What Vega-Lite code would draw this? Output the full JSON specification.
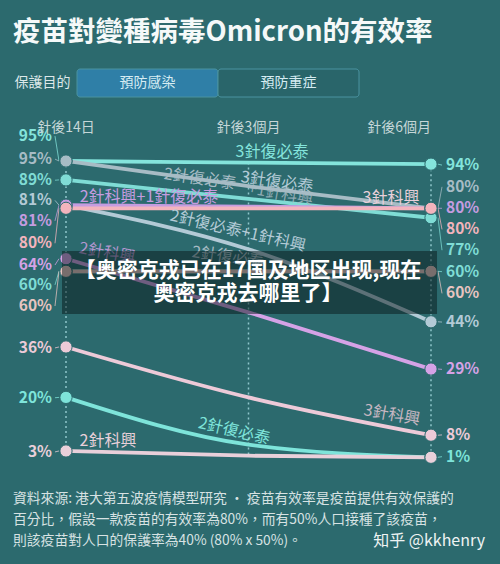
{
  "$schema": "https://vega.github.io/schema/vega-lite/v6.json",
  "padding": {"left": 13, "right": 13, "top": 19, "bottom": 14},
  "spacing": 15,
  "resolve": {"scale": {"color": "independent", "x": "independent", "y": "independent"}},
  "title": {"text": "疫苗對變種病毒Omicron的有效率", "anchor": "start", "fontSize": 27.5, "fontWeight": "bold", "color": "#f5f9f9", "font": "Noto Sans CJK TC", "offset": 22},
  "config": {
    "background": "#2c6a6e",
    "view": {"stroke": null},
    "font": "Noto Sans CJK TC",
    "text": {"font": "Noto Sans CJK TC"}
  },
  "datasets": {
    "series": [
      {"s": "s01", "t": 0, "v": 0.95, "lp": 1.029},
      {"s": "s01", "t": 1, "v": 0.945},
      {"s": "s01", "t": 2, "v": 0.94, "lp": 0.937},
      {"s": "s02", "t": 0, "v": 0.95, "lp": 0.956},
      {"s": "s02", "t": 1, "v": 0.87},
      {"s": "s02", "t": 2, "v": 0.80, "lp": 0.868},
      {"s": "s03", "t": 0, "v": 0.89, "lp": 0.889},
      {"s": "s03", "t": 1, "v": 0.83},
      {"s": "s03", "t": 2, "v": 0.77, "lp": 0.667},
      {"s": "s04", "t": 0, "v": 0.81, "lp": 0.825},
      {"s": "s04", "t": 1, "v": 0.67},
      {"s": "s04", "t": 2, "v": 0.44, "lp": 0.439},
      {"s": "s05", "t": 0, "v": 0.81, "lp": 0.760},
      {"s": "s05", "t": 1, "v": 0.805},
      {"s": "s05", "t": 2, "v": 0.80, "lp": 0.800},
      {"s": "s06", "t": 0, "v": 0.80, "lp": 0.689},
      {"s": "s06", "t": 1, "v": 0.80},
      {"s": "s06", "t": 2, "v": 0.80, "lp": 0.733},
      {"s": "s07", "t": 0, "v": 0.64, "lp": 0.620},
      {"s": "s07", "t": 1, "v": 0.47},
      {"s": "s07", "t": 2, "v": 0.29, "lp": 0.289},
      {"s": "s08", "t": 0, "v": 0.60, "lp": 0.557},
      {"s": "s08", "t": 1, "v": 0.60},
      {"s": "s08", "t": 2, "v": 0.60, "lp": 0.599},
      {"s": "s09", "t": 0, "v": 0.60, "lp": 0.490},
      {"s": "s09", "t": 1, "v": 0.60},
      {"s": "s09", "t": 2, "v": 0.60, "lp": 0.530},
      {"s": "s10", "t": 0, "v": 0.36, "lp": 0.357},
      {"s": "s10", "t": 1, "v": 0.20},
      {"s": "s10", "t": 2, "v": 0.08, "lp": 0.081},
      {"s": "s11", "t": 0, "v": 0.20, "lp": 0.199},
      {"s": "s11", "t": 1, "v": 0.05},
      {"s": "s11", "t": 2, "v": 0.01, "lp": 0.012},
      {"s": "s12", "t": 0, "v": 0.03, "lp": 0.027},
      {"s": "s12", "t": 1, "v": 0.015},
      {"s": "s12", "t": 2, "v": 0.01}
    ],
    "notes": [
      {"id": 1, "text": "3針復必泰", "s": "s01", "t": 1.129, "v": 0.9786},
      {"id": 2, "text": "2針復必泰", "s": "s02", "t": 0.734, "v": 0.8929},
      {"id": 3, "text": "3針復必泰", "s": "s04", "t": 1.156, "v": 0.8834},
      {"id": 4, "text": "+1針科興", "s": "s02", "t": 1.175, "v": 0.8450},
      {"id": 5, "text": "2針科興+1針復必泰", "s": "s05", "t": 0.455, "v": 0.8358},
      {"id": 6, "text": "3針科興", "s": "s12", "t": 1.781, "v": 0.8326},
      {"id": 7, "text": "2針復必泰+1針科興", "s": "s04", "t": 0.942, "v": 0.7279},
      {"id": 8, "text": "2針科興", "s": "s07", "t": 0.225, "v": 0.6581},
      {"id": 9, "text": "2針復必泰", "s": "s02", "t": 0.888, "v": 0.6454},
      {"id": 10, "text": "3針科興", "s": "s10", "t": 1.786, "v": 0.1442},
      {"id": 11, "text": "2針復必泰", "s": "s11", "t": 0.921, "v": 0.0934},
      {"id": 12, "text": "2針科興", "s": "s12", "t": 0.230, "v": 0.0617}
    ],
    "cols": [
      {"t": 0, "name": "針後14日"},
      {"t": 1, "name": "針後3個月"},
      {"t": 2, "name": "針後6個月"}
    ]
  },
  "vconcat": [
    {
      "width": 346,
      "height": 28,
      "data": {"values": [
        {"purpose": "保護目的", "tab": "預防感染", "active": "yes"},
        {"purpose": "保護目的", "tab": "預防重症", "active": "no"}
      ]},
      "encoding": {
        "x": {"field": "tab", "type": "nominal", "sort": null, "scale": {"paddingInner": 0, "paddingOuter": 0.227, "align": 1}, "axis": null},
        "y": {"field": "purpose", "type": "nominal", "scale": {"paddingInner": 0, "paddingOuter": 0}, "axis": {"title": null, "domain": false, "ticks": false, "offset": -66, "labelPadding": 9, "labelFontSize": 14, "labelColor": "#dde8e9", "labelFont": "Noto Sans CJK TC"}}
      },
      "layer": [
        {"mark": {"type": "bar", "stroke": "#4a93a0", "strokeWidth": 1, "cornerRadius": 3},
         "encoding": {"color": {"field": "active", "type": "nominal", "scale": {"domain": ["yes", "no"], "range": ["#2f7fa7", "#29656a"]}, "legend": null}}},
        {"mark": {"type": "text", "fontSize": 14, "color": "#d6ecf2", "font": "Noto Sans CJK TC"},
         "encoding": {"text": {"field": "tab"}}}
      ]
    },
    {
      "width": 474,
      "height": 361,
      "layer": [
        {
          "data": {"name": "series"},
          "mark": {"type": "rule", "strokeDash": [2, 3], "strokeWidth": 1.5, "color": "#8fc6cb"},
          "encoding": {
            "x": {"field": "t", "type": "quantitative", "scale": {"domain": [-0.29041, 2.30685], "nice": false, "zero": false}, "axis": null},
            "y": {"aggregate": "max", "field": "v", "type": "quantitative", "scale": {"domain": [-0.043, 1.1023], "nice": false, "zero": false}, "axis": null},
            "y2": {"aggregate": "min", "field": "v"}
          }
        },
        {
          "data": {"name": "series"},
          "mark": {"type": "line", "strokeWidth": 3.8, "interpolate": "monotone", "strokeCap": "round"},
          "encoding": {
            "x": {"field": "t", "type": "quantitative", "scale": {"domain": [-0.29041, 2.30685], "nice": false, "zero": false}, "axis": null},
            "y": {"field": "v", "type": "quantitative", "scale": {"domain": [-0.043, 1.1023], "nice": false, "zero": false}, "axis": null},
            "color": {"field": "s", "type": "nominal", "scale": {"domain": ["s01","s02","s03","s04","s05","s06","s07","s08","s09","s10","s11","s12"], "range": ["#84e4dc","#a7bcc5","#7fdcd5","#b3cad6","#c59ce0","#f3b4bd","#d5a2e6","#7fdcd5","#e8c4c0","#edcad8","#7ee4da","#e9d0da"]}, "legend": null},
            "order": {"field": "t"}
          }
        },
        {
          "data": {"name": "series"},
          "transform": [{"filter": "datum.lp != null && datum.t == 0"}],
          "mark": {"type": "rule", "strokeWidth": 1, "opacity": 0.75},
          "encoding": {
            "x": {"datum": -0.0603, "type": "quantitative", "scale": {"domain": [-0.29041, 2.30685], "nice": false, "zero": false}, "axis": null},
            "x2": {"datum": -0.0384},
            "y": {"field": "lp", "type": "quantitative", "scale": {"domain": [-0.043, 1.1023], "nice": false, "zero": false}, "axis": null},
            "y2": {"field": "v"},
            "color": {"field": "s", "type": "nominal", "legend": null}
          }
        },
        {
          "data": {"name": "series"},
          "transform": [{"filter": "datum.lp != null && datum.t == 2"}],
          "mark": {"type": "rule", "strokeWidth": 1, "opacity": 0.75},
          "encoding": {
            "x": {"datum": 2.0603, "type": "quantitative", "scale": {"domain": [-0.29041, 2.30685], "nice": false, "zero": false}, "axis": null},
            "x2": {"datum": 2.0384},
            "y": {"field": "lp", "type": "quantitative", "scale": {"domain": [-0.043, 1.1023], "nice": false, "zero": false}, "axis": null},
            "y2": {"field": "v"},
            "color": {"field": "s", "type": "nominal", "legend": null}
          }
        },
        {
          "data": {"name": "series"},
          "transform": [{"filter": "datum.t != 1"}],
          "mark": {"type": "point", "filled": true, "size": 150, "opacity": 1, "stroke": "#2c6a6e", "strokeWidth": 1},
          "encoding": {
            "x": {"field": "t", "type": "quantitative", "scale": {"domain": [-0.29041, 2.30685], "nice": false, "zero": false}, "axis": null},
            "y": {"field": "v", "type": "quantitative", "scale": {"domain": [-0.043, 1.1023], "nice": false, "zero": false}, "axis": null},
            "color": {"field": "s", "type": "nominal", "legend": null}
          }
        },
        {
          "data": {"name": "series"},
          "transform": [{"filter": "datum.lp != null && datum.t == 0"}],
          "mark": {"type": "text", "align": "right", "baseline": "middle", "dx": -14, "fontSize": 15.5, "fontWeight": "bold", "font": "Noto Sans CJK TC"},
          "encoding": {
            "x": {"field": "t", "type": "quantitative", "scale": {"domain": [-0.29041, 2.30685], "nice": false, "zero": false}, "axis": null},
            "y": {"field": "lp", "type": "quantitative", "scale": {"domain": [-0.043, 1.1023], "nice": false, "zero": false}, "axis": null},
            "text": {"field": "v", "type": "quantitative", "format": ".0%"},
            "color": {"field": "s", "type": "nominal", "legend": null}
          }
        },
        {
          "data": {"name": "series"},
          "transform": [{"filter": "datum.lp != null && datum.t == 2"}],
          "mark": {"type": "text", "align": "left", "baseline": "middle", "dx": 15, "fontSize": 15.5, "fontWeight": "bold", "font": "Noto Sans CJK TC"},
          "encoding": {
            "x": {"field": "t", "type": "quantitative", "scale": {"domain": [-0.29041, 2.30685], "nice": false, "zero": false}, "axis": null},
            "y": {"field": "lp", "type": "quantitative", "scale": {"domain": [-0.043, 1.1023], "nice": false, "zero": false}, "axis": null},
            "text": {"field": "v", "type": "quantitative", "format": ".0%"},
            "color": {"field": "s", "type": "nominal", "legend": null}
          }
        },
        {
          "data": {"name": "cols"},
          "transform": [{"filter": "datum.t < 2"}],
          "mark": {"type": "text", "align": "center", "baseline": "middle", "fontSize": 14, "color": "#c6d7d8", "font": "Noto Sans CJK TC"},
          "encoding": {
            "x": {"field": "t", "type": "quantitative", "scale": {"domain": [-0.29041, 2.30685], "nice": false, "zero": false}, "axis": null},
            "y": {"datum": 1.0547, "type": "quantitative", "scale": {"domain": [-0.043, 1.1023], "nice": false, "zero": false}, "axis": null},
            "text": {"field": "name"}
          }
        },
        {
          "data": {"name": "cols"},
          "transform": [{"filter": "datum.t == 2"}],
          "mark": {"type": "text", "align": "right", "baseline": "middle", "fontSize": 14, "color": "#c6d7d8", "font": "Noto Sans CJK TC"},
          "encoding": {
            "x": {"field": "t", "type": "quantitative", "scale": {"domain": [-0.29041, 2.30685], "nice": false, "zero": false}, "axis": null},
            "y": {"datum": 1.0547, "type": "quantitative", "scale": {"domain": [-0.043, 1.1023], "nice": false, "zero": false}, "axis": null},
            "text": {"field": "name"}
          }
        },
        {
          "data": {"name": "notes"},
          "transform": [{"filter": {"field": "id", "oneOf": [1, 5, 6, 12]}}],
          "mark": {"type": "text", "align": "center", "baseline": "middle", "fontSize": 16, "font": "Noto Sans CJK TC", "angle": 0},
          "encoding": {
            "x": {"field": "t", "type": "quantitative", "scale": {"domain": [-0.29041, 2.30685], "nice": false, "zero": false}, "axis": null},
            "y": {"field": "v", "type": "quantitative", "scale": {"domain": [-0.043, 1.1023], "nice": false, "zero": false}, "axis": null},
            "text": {"field": "text"},
            "color": {"field": "s", "type": "nominal", "legend": null}
          }
        },
        {
          "data": {"name": "notes"},
          "transform": [{"filter": {"field": "id", "oneOf": [2, 3, 9]}}],
          "mark": {"type": "text", "align": "center", "baseline": "middle", "fontSize": 16, "font": "Noto Sans CJK TC", "angle": 8},
          "encoding": {
            "x": {"field": "t", "type": "quantitative", "scale": {"domain": [-0.29041, 2.30685], "nice": false, "zero": false}, "axis": null},
            "y": {"field": "v", "type": "quantitative", "scale": {"domain": [-0.043, 1.1023], "nice": false, "zero": false}, "axis": null},
            "text": {"field": "text"},
            "color": {"field": "s", "type": "nominal", "legend": null}
          }
        },
        {
          "data": {"name": "notes"},
          "transform": [{"filter": {"field": "id", "oneOf": [4, 8, 10]}}],
          "mark": {"type": "text", "align": "center", "baseline": "middle", "fontSize": 16, "font": "Noto Sans CJK TC", "angle": 10, "opacity": 0.8},
          "encoding": {
            "x": {"field": "t", "type": "quantitative", "scale": {"domain": [-0.29041, 2.30685], "nice": false, "zero": false}, "axis": null},
            "y": {"field": "v", "type": "quantitative", "scale": {"domain": [-0.043, 1.1023], "nice": false, "zero": false}, "axis": null},
            "text": {"field": "text"},
            "color": {"field": "s", "type": "nominal", "legend": null}
          }
        },
        {
          "data": {"name": "notes"},
          "transform": [{"filter": {"field": "id", "oneOf": [7, 11]}}],
          "mark": {"type": "text", "align": "center", "baseline": "middle", "fontSize": 16, "font": "Noto Sans CJK TC", "angle": 13},
          "encoding": {
            "x": {"field": "t", "type": "quantitative", "scale": {"domain": [-0.29041, 2.30685], "nice": false, "zero": false}, "axis": null},
            "y": {"field": "v", "type": "quantitative", "scale": {"domain": [-0.043, 1.1023], "nice": false, "zero": false}, "axis": null},
            "text": {"field": "text"},
            "color": {"field": "s", "type": "nominal", "legend": null}
          }
        },
        {
          "data": {"values": [{"caption": "banner"}]},
          "mark": {"type": "rect", "color": "#081819", "opacity": 0.5},
          "encoding": {
            "x": {"datum": -0.0219, "type": "quantitative", "scale": {"domain": [-0.29041, 2.30685], "nice": false, "zero": false}, "axis": null},
            "x2": {"datum": 2.0329},
            "y": {"datum": 0.6645, "type": "quantitative", "scale": {"domain": [-0.043, 1.1023], "nice": false, "zero": false}, "axis": null},
            "y2": {"datum": 0.4646}
          }
        },
        {
          "data": {"values": [{"caption": "【奥密克戎已在17国及地区出现,现在\n奥密克戎去哪里了】"}]},
          "mark": {"type": "text", "lineBreak": "\n", "lineHeight": 23, "fontSize": 21, "fontWeight": "bold", "color": "#ffffff", "font": "Noto Sans CJK SC", "align": "center", "baseline": "middle"},
          "encoding": {
            "x": {"datum": 0.997, "type": "quantitative", "scale": {"domain": [-0.29041, 2.30685], "nice": false, "zero": false}, "axis": null},
            "y": {"datum": 0.601, "type": "quantitative", "scale": {"domain": [-0.043, 1.1023], "nice": false, "zero": false}, "axis": null},
            "text": {"field": "caption"}
          }
        }
      ]
    },
    {
      "width": 474,
      "height": 62,
      "layer": [
        {
          "data": {"values": [
            {"line": 1, "side": "left", "text": "資料來源: 港大第五波疫情模型研究 • 疫苗有效率是疫苗提供有效保護的"},
            {"line": 2, "side": "left", "text": "百分比，假設一款疫苗的有效率為80%，而有50%人口接種了該疫苗，"},
            {"line": 3, "side": "left", "text": "則該疫苗對人口的保護率為40% (80% x 50%)。"}
          ]},
          "mark": {"type": "text", "align": "left", "baseline": "middle", "fontSize": 13.8, "color": "#d7e2e3", "font": "Noto Sans CJK TC"},
          "encoding": {
            "x": {"field": "side", "type": "nominal", "scale": {"type": "point", "domain": ["left", "right"], "padding": 0}, "axis": null},
            "y": {"field": "line", "type": "ordinal", "scale": {"type": "point", "domain": [1, 2, 3], "padding": 0.5}, "axis": null},
            "text": {"field": "text"}
          }
        },
        {
          "data": {"values": [{"line": 3, "side": "right", "text": "知乎 @kkhenry"}]},
          "mark": {"type": "text", "align": "right", "baseline": "middle", "dx": -2, "fontSize": 16, "color": "#eef3f3", "font": "Noto Sans CJK SC"},
          "encoding": {
            "x": {"field": "side", "type": "nominal", "scale": {"type": "point", "domain": ["left", "right"], "padding": 0}, "axis": null},
            "y": {"field": "line", "type": "ordinal", "scale": {"type": "point", "domain": [1, 2, 3], "padding": 0.5}, "axis": null},
            "text": {"field": "text"}
          }
        }
      ]
    }
  ]
}
